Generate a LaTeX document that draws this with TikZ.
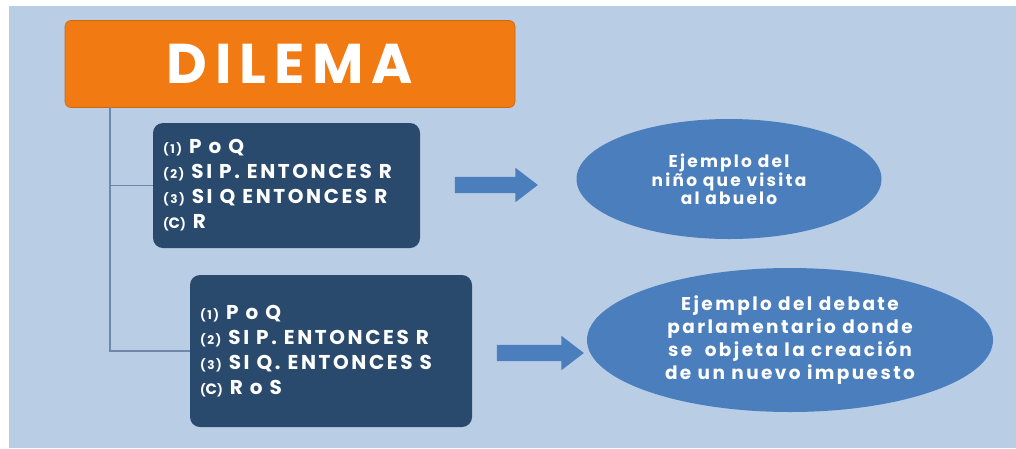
\documentclass[tikz,border=0pt]{standalone}
\usepackage{fontspec}
\setmainfont{Poppins}
\newfontfamily\titlefont{Poppins}[LetterSpace=14]
\newfontfamily\boxfont{Poppins}[LetterSpace=13]
\newfontfamily\ellfont{Poppins}[LetterSpace=13]
\usetikzlibrary{shapes.geometric,shapes.arrows}
\definecolor{bg}{HTML}{B9CDE5}
\definecolor{orng}{HTML}{F27A12}
\definecolor{navy}{HTML}{2A4A6D}
\definecolor{midblue}{HTML}{4B7EBC}
\definecolor{conn}{HTML}{6F88A8}
\newcommand{\widesp}{\spaceskip=7pt plus 2pt\relax}
\tikzset{
  titlebox/.style={fill=orng, draw=orng!85!black, line width=0.6pt, rounded corners=6pt, minimum width=450pt, minimum height=87pt, inner sep=0pt, text=white, font=\titlefont\bfseries\fontsize{56}{60}\selectfont},
  premise/.style={fill=navy, rounded corners=10pt, inner xsep=10pt, inner ysep=0pt, text=white, align=left, font=\boxfont\bfseries\fontsize{20}{25}\selectfont},
  example/.style={ellipse, fill=midblue, inner sep=0pt, text=white, align=center},
  bigarrow/.style={single arrow, fill=midblue, inner xsep=0pt, inner ysep=8pt, single arrow head extend=9pt, single arrow tip angle=75},
  connector/.style={draw=conn, line width=1.6pt}
}
\newcommand{\nm}[1]{{\fontsize{12}{25}\selectfont(#1)}}
\newcommand{\nc}{{\fontsize{12}{25}\selectfont(}{\fontsize{15}{25}\selectfont C}{\fontsize{12}{25}\selectfont)}}
\begin{document}
\begin{tikzpicture}[x=1pt,y=-1pt]
\useasboundingbox (0,0) rectangle (1016,448);
\fill[white] (0,0) rectangle (1016,448);
\fill[bg] (9,6) rectangle (1016,448);

\node[titlebox] (dil) at (290,64) {DILEMA};

\node[premise, text width=247pt, minimum height=125pt] (b1) at (286.5,185.5)
  {\widesp\nm{1} P o Q\\ \nm{2} SI P. ENTONCES R\\ \nm{3} SI Q ENTONCES R\\ \nc{} R};
\node[premise, text width=262pt, minimum height=152pt] (b2) at (331,351)
  {\widesp\nm{1} P o Q\\ \nm{2} SI P. ENTONCES R\\ \nm{3} SI Q. ENTONCES S\\ \nc{} R o S};

\node[bigarrow, minimum height=83pt] (a1) at (491,185) {};
\node[bigarrow, minimum height=87pt] (a2) at (535,353) {};

\node[example, minimum width=305pt, minimum height=120pt,
  font=\ellfont\bfseries\fontsize{17}{18}\selectfont] (e1) at (729,179)
  {Ejemplo del\\ niño que visita\\ al abuelo};
\node[example, minimum width=406pt, minimum height=144pt,
  font=\ellfont\bfseries\fontsize{18.5}{23}\selectfont] (e2) at (790,340)
  {Ejemplo del debate\\ parlamentario donde\\ se \ objeta la creación\\ de un nuevo impuesto};

\coordinate (c0) at (110,107);
\draw[connector] (c0) |- (b1.west);
\draw[connector] (c0) |- (b2.west);
\end{tikzpicture}
\end{document}
